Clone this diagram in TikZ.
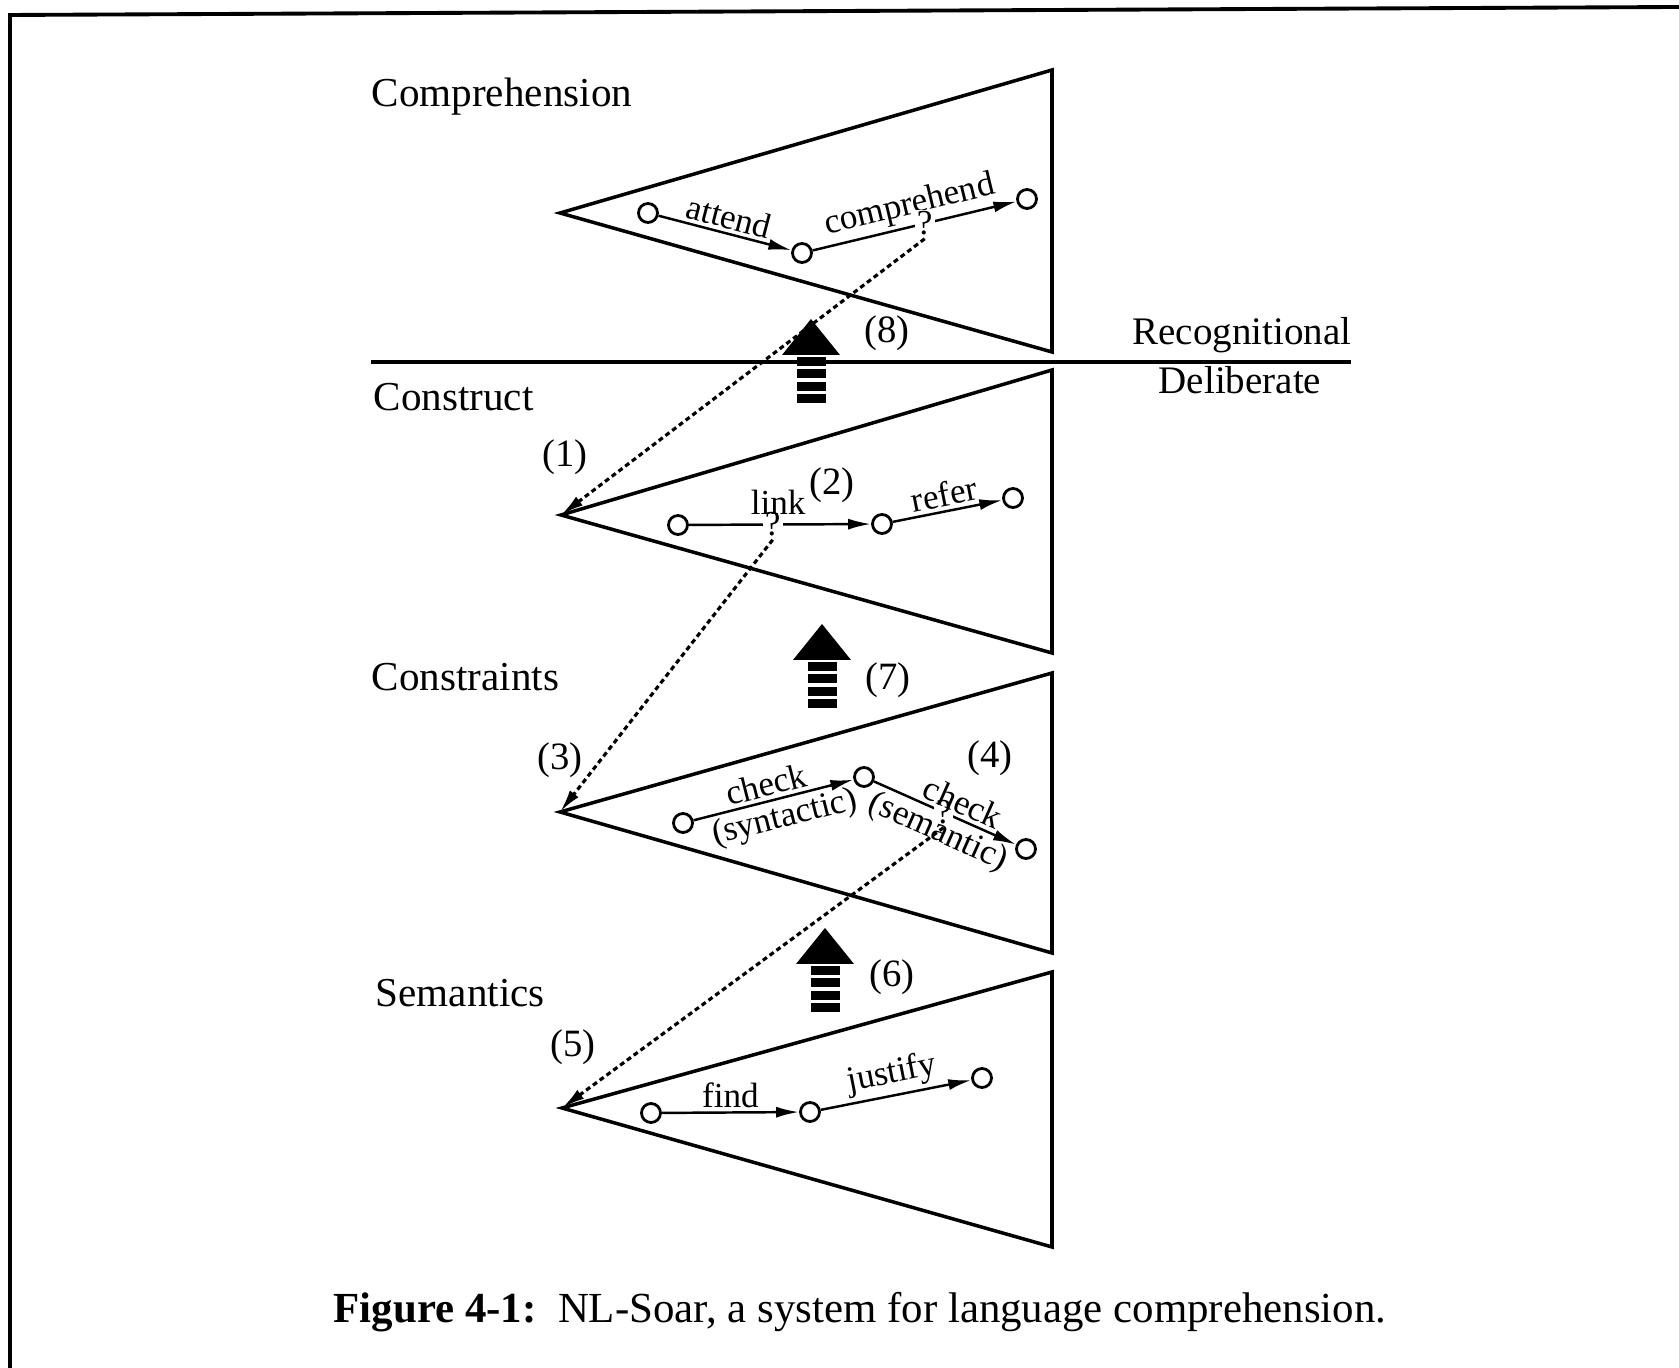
\documentclass[tikz,border=0pt]{standalone}
\usepackage{fontspec}
\setmainfont{Liberation Serif}
\usetikzlibrary{arrows.meta}

% thick striped arrow, #1,#2 = centre of the head's base
\newcommand{\levelup}[2]{%
  \fill (#1-0.29,#2) -- (#1,#2+0.36) -- (#1+0.29,#2) -- cycle;
  \foreach \k in {0,...,3}
    \fill (#1-0.145,#2-0.02-0.125*\k) rectangle (#1+0.145,#2-0.11-0.125*\k);}

\begin{document}
\begin{tikzpicture}[
  tri/.style={line width=1pt, line join=miter},
  st/.style={circle, draw, line width=0.8pt, minimum size=0.19cm, inner sep=0pt, fill=white},
  flow/.style={line width=0.7pt, -{Latex[length=2.3mm,width=1.1mm]}},
  jump/.style={line width=0.9pt, dash pattern=on 1.4pt off 1pt, -{Latex[length=2.3mm,width=1.1mm]}},
  lab/.style={font=\fontsize{10}{12}\selectfont, inner sep=1pt},
  qmark/.style={font=\fontsize{10}{12}\selectfont, fill=white, inner sep=0.6pt},
  space/.style={font=\fontsize{11.7}{14}\selectfont, anchor=base west, inner sep=0pt},
  side/.style={font=\fontsize{11.1}{13}\selectfont, anchor=base, inner sep=0pt},
  num/.style={font=\fontsize{11}{13}\selectfont, inner sep=0pt},
]
  \useasboundingbox (0,0) rectangle (16.79,13.68);

  % frame
  \draw[line width=1.1pt] (0.10,0) -- (0.10,13.53) -- (16.79,13.61);

  %% Comprehension
  \node[space] (tcomp) at (3.71,12.61) {Comprehension};
  \coordinate (apex1) at (5.60,11.55);
  \draw[tri] (apex1) -- (10.52,12.98) -- (10.52,10.16) -- cycle;
  \node[st] (a1) at (6.48,11.55) {};
  \node[st] (b1) at (8.02,11.15) {};
  \node[st] (c1) at (10.27,11.69) {};
  \draw[flow] (a1) -- node[lab, sloped, above] {attend} (b1);
  \draw[flow] (b1) -- node[lab, sloped, above, pos=0.5] {comprehend}
                      node[qmark, pos=0.55] (q1) {?} (c1);

  %% recognitional / deliberate
  \draw[line width=1pt] (3.71,10.06) -- (13.51,10.06);
  \node[side] (trec) at (12.42,10.23) {Recognitional};
  \node[side] (tdel) at (12.40,9.74) {Deliberate};

  %% Construct
  \node[space] (tcons) at (3.73,9.57) {Construct};
  \coordinate (apex2) at (5.61,8.53);
  \draw[tri] (apex2) -- (10.52,9.98) -- (10.52,7.15) -- cycle;
  \node[st] (a2) at (6.78,8.43) {};
  \node[st] (b2) at (8.82,8.44) {};
  \node[st] (c2) at (10.13,8.70) {};
  \draw[flow] (a2) -- node[qmark, pos=0.46] (q2) {?}
                      node[lab, above=1.5pt, pos=0.49] {link} (b2);
  \draw[flow] (b2) -- node[lab, sloped, above] {refer} (c2);

  %% Constraints
  \node[space] (tcstr) at (3.71,6.77) {Constraints};
  \coordinate (apex3) at (5.60,5.56);
  \draw[tri] (apex3) -- (10.52,6.95) -- (10.52,4.15) -- cycle;
  \node[st] (a3) at (6.83,5.45) {};
  \node[st] (b3) at (8.64,5.91) {};
  \node[st] (c3) at (10.26,5.19) {};
  \draw[flow] (a3) -- node[lab, sloped, above, pos=0.48] {check}
                      node[lab, sloped, below, pos=0.54] {(syntactic)} (b3);
  \draw[flow] (b3) -- node[qmark, pos=0.49] (q3) {?}
                      node[lab, sloped, above, pos=0.58] {check}
                      node[lab, sloped, below, pos=0.51] {(semantic)} (c3);

  %% Semantics
  \node[space] (tsem) at (3.75,3.61) {Semantics};
  \coordinate (apex4) at (5.62,2.60);
  \draw[tri] (apex4) -- (10.52,3.96) -- (10.52,1.21) -- cycle;
  \node[st] (a4) at (6.51,2.55) {};
  \node[st] (b4) at (8.10,2.56) {};
  \node[st] (c4) at (9.82,2.90) {};
  \draw[flow] (a4) -- node[lab, above] {find} (b4);
  \draw[flow] (b4) -- node[lab, sloped, above] {justify} (c4);

  %% impasses going down
  \draw[jump] (q1.south) -- (apex2);
  \draw[jump] (q2.south) -- (apex3);
  \draw[jump] (q3.south) -- (apex4);

  %% chunks going up
  \levelup{8.11}{10.13}
  \levelup{8.22}{7.08}
  \levelup{8.25}{4.04}

  %% step numbers
  \node[num] (n1) at (5.65,9.11) {(1)};
  \node[num] (n2) at (8.32,8.83) {(2)};
  \node[num] (n3) at (5.60,6.08) {(3)};
  \node[num] (n4) at (9.90,6.10) {(4)};
  \node[num] (n5) at (5.73,3.21) {(5)};
  \node[num] (n6) at (8.92,3.91) {(6)};
  \node[num] (n7) at (8.88,6.88) {(7)};
  \node[num] (n8) at (8.87,10.35) {(8)};

  % caption
  \node[anchor=base, font=\fontsize{12.2}{14.6}\selectfont] (cap) at (8.60,0.45)
    {\textbf{Figure 4-1:}~~NL-Soar, a system for language comprehension.};
\end{tikzpicture}
\end{document}
